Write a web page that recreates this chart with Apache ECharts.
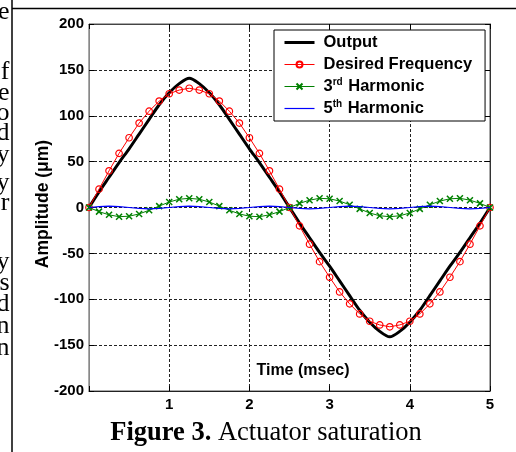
<!DOCTYPE html>
<html><head><meta charset="utf-8">
<script src="https://cdn.jsdelivr.net/npm/echarts@6/dist/echarts.min.js"></script>
<style>html,body{margin:0;padding:0;background:#fff}#c{width:516px;height:452px}</style>
</head><body><div id="c"></div>
<script>
// Data
const timeMs = [0,0.125,0.25,0.375,0.5,0.625,0.75,0.875,1,1.125,1.25,1.375,1.5,1.625,1.75,1.875,2,2.125,2.25,2.375,2.5,2.625,2.75,2.875,3,3.125,3.25,3.375,3.5,3.625,3.75,3.875,4,4.125,4.25,4.375,4.5,4.625,4.75,4.875,5];
const outputVals = [0,17,33,49,64,80,96,112,125,135,141,135,125,112,96,80,64,49,33,17,0,-17,-33,-49,-64,-80,-96,-112,-125,-135,-141,-135,-125,-112,-96,-80,-64,-49,-33,-17,0];
const desiredVals = [0,20,40,59,76,92,105,116,124,128,130,128,124,116,105,92,76,59,40,20,0,-20,-40,-59,-76,-92,-105,-116,-124,-128,-130,-128,-124,-116,-105,-92,-76,-59,-40,-20,0];
const harmonic3Vals = [0,-4.5,-8,-10,-9.5,-7,-3,1.5,6,9,10,9,6,1.5,-3,-7,-9.5,-10,-8,-4.5,0,4.5,8,10,9.5,7,3,-1.5,-6,-9,-10,-9,-6,-1.5,3,7,9.5,10,8,4.5,0];
const harmonic5Vals = [0,1,1.5,1,0,-1,-1.5,-1,0,1,1.5,1,0,-1,-1.5,-1,0,1,1.5,1,0,-1,-1.5,-1,0,1,1.5,1,0,-1,-1.5,-1,0,1,1.5,1,0,-1,-1.5,-1,0];
const seriesNames = ['Output','Desired Frequency','3rd Harmonic','5th Harmonic'];
const xLabelTitle = 'Time (msec)';
const yLabelTitle = 'Amplitude (\u03bcm)';
const captionBold = 'Figure 3.';
const captionText = ' Actuator saturation';
const sideLetters = [['e',12],['f',72],['e',93],['o',113],['d',133],['y',155],['y',183],['r',203],['y',262],['s',283],['d',304],['n',326],['n',348]];

const pair = vals => timeMs.map((t,i)=>[t, vals[i]]);
const FONT = 'Liberation Sans, Arial, sans-serif';
const SERIF = 'Liberation Serif, Times New Roman, serif';

const chart = echarts.init(document.getElementById('c'), null, {renderer:'canvas'});
const gridLine = {show:true, lineStyle:{color:'#222', type:[3,2], width:1}};
const graphics = [
  {type:'line', shape:{x1:12,y1:0,x2:12,y2:452}, style:{stroke:'#000', lineWidth:1.5}, silent:true},
  {type:'line', shape:{x1:12,y1:8.5,x2:516,y2:8.5}, style:{stroke:'#000', lineWidth:1.5}, silent:true},
  {type:'text', x:303, y:371, z:50, style:{text:xLabelTitle, font:'bold 16px '+FONT, fill:'#000', textAlign:'center', textVerticalAlign:'middle', backgroundColor:'#fff', padding:[3,2]}},
  {type:'text', x:43, y:204, rotation:Math.PI/2, style:{text:yLabelTitle, font:'bold 17.5px '+FONT, fill:'#000', textAlign:'center', textVerticalAlign:'middle'}},
  {type:'text', x:266, y:433, style:{text:'{b|'+captionBold+'}{r|'+captionText+'}', textAlign:'center', textVerticalAlign:'middle', rich:{b:{font:'bold 26.5px '+SERIF, fill:'#000'}, r:{font:'26.5px '+SERIF, fill:'#000'}}}}
];
sideLetters.forEach(([ch,y])=>{
  graphics.push({type:'text', x:9.5, y:y, style:{text:'ab'+ch, font:'26px '+SERIF, fill:'#000', textAlign:'right', textVerticalAlign:'middle'}});
});

const lineOnly = {opacity:0};
chart.setOption({
  animation:false,
  backgroundColor:'#fff',
  grid:{left:89, right:26, top:24, bottom:61, show:true, borderColor:'#555', borderWidth:1},
  legend:{
    orient:'vertical', left:274, top:30, padding:[3.5,13,3.5,9],
    backgroundColor:'#fff', borderColor:'#000', borderWidth:1,
    itemWidth:30, itemHeight:7.5, itemGap:4,
    textStyle:{fontFamily:FONT, fontWeight:'bold', fontSize:16.5, color:'#000', lineHeight:18, padding:[0,0,0,4],
      rich:{sup:{fontFamily:FONT, fontWeight:'bold', fontSize:10, color:'#000', lineHeight:18, verticalAlign:'top', padding:[0,1,6,0]}}},
    formatter:n=>{
      if(n==='3rd Harmonic') return '3{sup|rd} Harmonic';
      if(n==='5th Harmonic') return '5{sup|th} Harmonic';
      return n;
    },
    data:[
      {name:seriesNames[0], itemStyle:lineOnly, lineStyle:{width:3}},
      {name:seriesNames[1], lineStyle:{width:1}},
      {name:seriesNames[2], lineStyle:{width:1}},
      {name:seriesNames[3], itemStyle:lineOnly, lineStyle:{width:1.2}}
    ]
  },
  xAxis:[
    {type:'value', min:0, max:5, interval:1, position:'bottom',
     axisLine:{show:true, onZero:false, lineStyle:{color:'#222', width:1}},
     axisTick:{show:true, inside:true, length:5, lineStyle:{color:'#000'}},
     axisLabel:{margin:6, color:'#000', fontFamily:FONT, fontWeight:'bold', fontSize:15, formatter:v=>v===0?'':String(v)},
     splitLine:gridLine},
    {type:'value', min:0, max:5, interval:1, position:'top',
     axisLine:{show:true, onZero:false, lineStyle:{color:'#444'}},
     axisTick:{show:true, inside:true, length:5, lineStyle:{color:'#000'}},
     axisLabel:{show:false}, splitLine:{show:false}}
  ],
  yAxis:[
    {type:'value', min:-200, max:200, interval:50, position:'left',
     axisLine:{show:true, onZero:false, lineStyle:{color:'#888', width:1}},
     axisTick:{show:true, inside:true, length:5, lineStyle:{color:'#000'}},
     axisLabel:{margin:5, color:'#000', fontFamily:FONT, fontWeight:'bold', fontSize:15},
     splitLine:gridLine},
    {type:'value', min:-200, max:200, interval:50, position:'right',
     axisLine:{show:true, onZero:false, lineStyle:{color:'#333'}},
     axisTick:{show:true, inside:true, length:5, lineStyle:{color:'#000'}},
     axisLabel:{show:false}, splitLine:{show:false}}
  ],
  series:[
    {name:seriesNames[0], type:'line', data:pair(outputVals), symbol:'none', showSymbol:false, smooth:0.3,
     lineStyle:{color:'#000', width:3}, itemStyle:{color:'#000'}, z:2},
    {name:seriesNames[1], type:'line', data:pair(desiredVals), symbol:'circle', symbolSize:6.5, showSymbol:true,
     lineStyle:{color:'#ff0000', width:1}, itemStyle:{color:'rgba(255,255,255,0)', borderColor:'#ff0000', borderWidth:1.2}, z:3},
    {name:seriesNames[2], type:'line', data:pair(harmonic3Vals), symbol:'path://M0,0L10,10M0,10L10,0', symbolSize:6, showSymbol:true,
     lineStyle:{color:'#008000', width:1}, itemStyle:{color:'#008000', borderColor:'#008000', borderWidth:1.5}, z:4},
    {name:seriesNames[3], type:'line', data:pair(harmonic5Vals), symbol:'none', showSymbol:false,
     lineStyle:{color:'#0000ff', width:1.2}, itemStyle:{color:'#0000ff'}, z:5}
  ],
  graphic:graphics
});
</script>
</body></html>
